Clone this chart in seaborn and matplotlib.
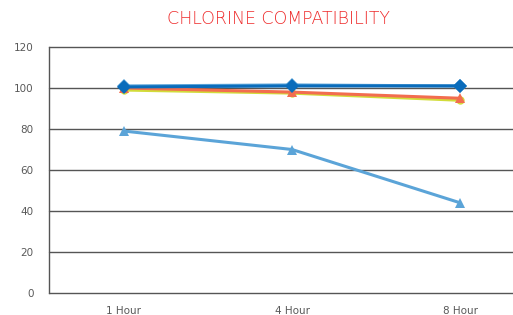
import matplotlib
matplotlib.use("Agg")
import matplotlib.pyplot as plt
import seaborn as sns
import pandas as pd

hours = ["1 Hour", "4 Hour", "8 Hour"]
series_names = ["S1", "S2", "S3", "S4", "S5"]
s1 = [101.0, 101.5, 101.0]   # light blue (hidden behind dark blue)
s2 = [99.0, 97.5, 94.0]      # yellow-green circles
s3 = [100.0, 98.0, 95.0]     # orange triangles
s4 = [100.5, 101.0, 101.0]   # dark blue diamonds
s5 = [79.0, 70.0, 44.0]      # light blue triangles
y_ticks = [0, 20, 40, 60, 80, 100, 120]
title = "CHLORINE COMPATIBILITY"

colors = ["#5BA4D8", "#D2DC3A", "#F26D4F", "#0A6CBB", "#5BA4D8"]
markers = ["D", "o", "^", "D", "^"]

rows = []
for name, vals in zip(series_names, [s1, s2, s3, s4, s5]):
    for h, v in zip(hours, vals):
        rows.append({"hour": h, "value": v, "series": name})
df = pd.DataFrame(rows)

sns.set_theme(style="white")
plt.rcParams["font.family"] = ["DejaVu Sans"]

fig = plt.figure(figsize=(5.13, 3.15), dpi=100)
ax = fig.add_axes([49/513, 1 - 293/315, (513-49)/513, (293-47)/315])

for name, c, m in zip(series_names, colors, markers):
    sub = df[df["series"] == name]
    sns.lineplot(data=sub, x="hour", y="value", ax=ax, color=c, marker=m,
                 markersize=7 if m != "o" else 6, markeredgewidth=0,
                 linewidth=2.2, sort=False, legend=False)

ax.set_ylim(0, 120)
ax.set_yticks(y_ticks)
ax.set_xlim(-0.446, 2.315)
ax.set_xlabel("")
ax.set_ylabel("")
for y in y_ticks:
    ax.axhline(y, color="#555555", linewidth=1.0, zorder=0, clip_on=False)
for side in ["top", "right", "bottom"]:
    ax.spines[side].set_visible(False)
ax.spines["left"].set_color("#555555")
ax.spines["left"].set_linewidth(1.0)
ax.tick_params(axis="both", length=0, labelsize=7.5, labelcolor="#595959")
ax.tick_params(axis="y", pad=11)
ax.tick_params(axis="x", pad=9)

fig.text(0.542, 1 - 19/315, title, color="#EE2B2B", fontsize=12.5,
         ha="center", va="center", fontweight="light")

fig.savefig("out.png", dpi=100)
